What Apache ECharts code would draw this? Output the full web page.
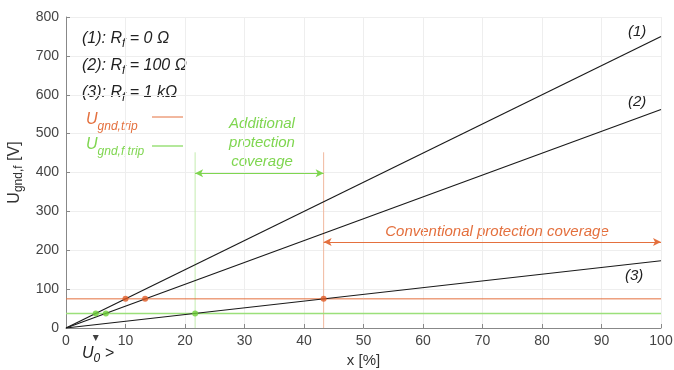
<!DOCTYPE html>
<html><head><meta charset="utf-8">
<script src="https://cdn.jsdelivr.net/npm/echarts@6/dist/echarts.min.js"></script>
<style>html,body{margin:0;padding:0;background:#fff}#c{width:674px;height:370px}</style>
</head><body><div id="c"></div>
<script>
var xTicks = [0,10,20,30,40,50,60,70,80,90,100];
var yTicks = [0,100,200,300,400,500,600,700,800];
var line1 = [[0,0],[100,750]];
var line2 = [[0,0],[100,562]];
var line3 = [[0,0],[100,173]];
var tripLevel = 75;
var tripFLevel = 37.5;
var tripPoints = [[10,75],[13.3,75],[43.3,75]];
var tripFPoints = [[5,37.5],[6.7,37.5],[21.7,37.5]];
var greenVertical = [[21.7,0],[21.7,452]];
var orangeVertical = [[43.3,0],[43.3,452]];
var additionalArrow = [[21.7,398],[43.3,398]];
var conventionalArrow = [[43.3,221],[100,221]];
var u0X = 5;

var ORANGE = '#e4703e', GREEN = '#7fd650', DOT_O = '#e05a24', DOT_G = '#6fcf3a';
var FONT = 'Liberation Sans, Arial, sans-serif';
function rt(fill, size, sub, pad){
  return {i:{fontFamily:FONT,fontSize:size,fontStyle:'italic',fill:fill},
          s:{fontFamily:FONT,fontSize:sub,fontStyle:'italic',fill:fill,padding:[pad,0,0,0]}};
}
var chart = echarts.init(document.getElementById('c'));
chart.setOption({
  animation:false,
  grid:{left:66,right:13,top:17,bottom:42,containLabel:false,outerBoundsMode:'none'},
  xAxis:{type:'value',min:0,max:100,interval:10,
    name:'x [%]',nameLocation:'middle',nameGap:25,
    nameTextStyle:{fontFamily:FONT,fontSize:15,color:'#333'},
    axisLine:{lineStyle:{color:'#888'}},axisTick:{show:true,length:4,inside:true,lineStyle:{color:'#888'}},
    axisLabel:{fontFamily:FONT,fontSize:14,color:'#444',margin:6},
    splitLine:{lineStyle:{color:'#eeeeee'}}},
  yAxis:{type:'value',min:0,max:800,interval:100,
    name:'{a|U}{b|gnd,f}{a| [V]}',nameLocation:'middle',nameGap:40,
    nameTextStyle:{rich:{a:{fontFamily:FONT,fontSize:16,color:'#333'},b:{fontFamily:FONT,fontSize:12,color:'#333',padding:[8,0,0,0]}}},
    axisLine:{show:true,lineStyle:{color:'#888'}},axisTick:{show:true,length:4,inside:true,lineStyle:{color:'#888'}},
    axisLabel:{fontFamily:FONT,fontSize:14,color:'#444',margin:7},
    splitLine:{lineStyle:{color:'#eeeeee'}}},
  series:[
    {type:'line',data:greenVertical,symbol:'none',lineStyle:{color:'#c5ecb0',width:1},z:1},
    {type:'line',data:orangeVertical,symbol:'none',lineStyle:{color:'#f1b89e',width:1},z:1},
    {type:'line',data:[[0,tripLevel],[100,tripLevel]],symbol:'none',lineStyle:{color:ORANGE,width:1},z:2},
    {type:'line',data:[[0,tripFLevel],[100,tripFLevel]],symbol:'none',lineStyle:{color:'#9be07a',width:1.5},z:2},
    {type:'line',data:line1,symbol:'none',lineStyle:{color:'#1a1a1a',width:1.2},z:3,
      markLine:{silent:true,symbol:['arrow','arrow'],symbolSize:[6,8],lineStyle:{color:GREEN,width:1.2,type:'solid'},label:{show:false},
        data:[[{coord:additionalArrow[0]},{coord:additionalArrow[1]}]]}},
    {type:'line',data:line2,symbol:'none',lineStyle:{color:'#1a1a1a',width:1.2},z:3,
      markLine:{silent:true,symbol:['arrow','arrow'],symbolSize:[6,8],lineStyle:{color:ORANGE,width:1.2,type:'solid'},label:{show:false},
        data:[[{coord:conventionalArrow[0]},{coord:conventionalArrow[1]}]]}},
    {type:'line',data:line3,symbol:'none',lineStyle:{color:'#1a1a1a',width:1.2},z:3},
    {type:'scatter',data:tripPoints,symbolSize:6,itemStyle:{color:DOT_O},z:5},
    {type:'scatter',data:tripFPoints,symbolSize:6,itemStyle:{color:DOT_G},z:5},
    {type:'scatter',data:[[u0X,0]],symbol:'triangle',symbolRotate:180,symbolSize:[6,6],symbolOffset:[0,10],itemStyle:{color:'#111'},z:6}
  ],
  graphic:[
    {type:'text',left:82,top:31,style:{text:'{i|(1): R}{s|f}{i| = 0 Ω}',rich:rt('#222',16,12,9)}},
    {type:'text',left:82,top:58,style:{text:'{i|(2): R}{s|f}{i| = 100 Ω}',rich:rt('#222',16,12,9)}},
    {type:'text',left:82,top:85,style:{text:'{i|(3): R}{s|f}{i| = 1 kΩ}',rich:rt('#222',16,12,9)}},
    {type:'text',left:86,top:112,style:{text:'{i|U}{s|gnd,trip}',rich:rt(ORANGE,16,12,14)}},
    {type:'text',left:86,top:137,style:{text:'{i|U}{s|gnd,f,trip}',rich:rt(GREEN,16,12,14)}},
    {type:'line',shape:{x1:152,y1:117,x2:183,y2:117},style:{stroke:ORANGE,lineWidth:1}},
    {type:'line',shape:{x1:152,y1:146,x2:183,y2:146},style:{stroke:'#9be07a',lineWidth:1.5}},
    {type:'text',x:262,y:114,style:{text:'Additional\nprotection\ncoverage',align:'center',lineHeight:19,fontFamily:FONT,fontSize:15,fontStyle:'italic',fill:GREEN}},
    {type:'text',x:497,y:224,style:{text:'Conventional protection coverage',align:'center',fontFamily:FONT,fontSize:15,fontStyle:'italic',fill:ORANGE}},
    {type:'text',x:628,y:24,style:{text:'(1)',fontFamily:FONT,fontSize:15,fontStyle:'italic',fill:'#222'}},
    {type:'text',x:628,y:94,style:{text:'(2)',fontFamily:FONT,fontSize:15,fontStyle:'italic',fill:'#222'}},
    {type:'text',x:625,y:268,style:{text:'(3)',fontFamily:FONT,fontSize:15,fontStyle:'italic',fill:'#222'}},
    {type:'text',x:82,y:342,style:{text:'{i|U}{s|0}{i| >}',rich:rt('#222',16,12,11)}}
  ]
});
</script></body></html>
